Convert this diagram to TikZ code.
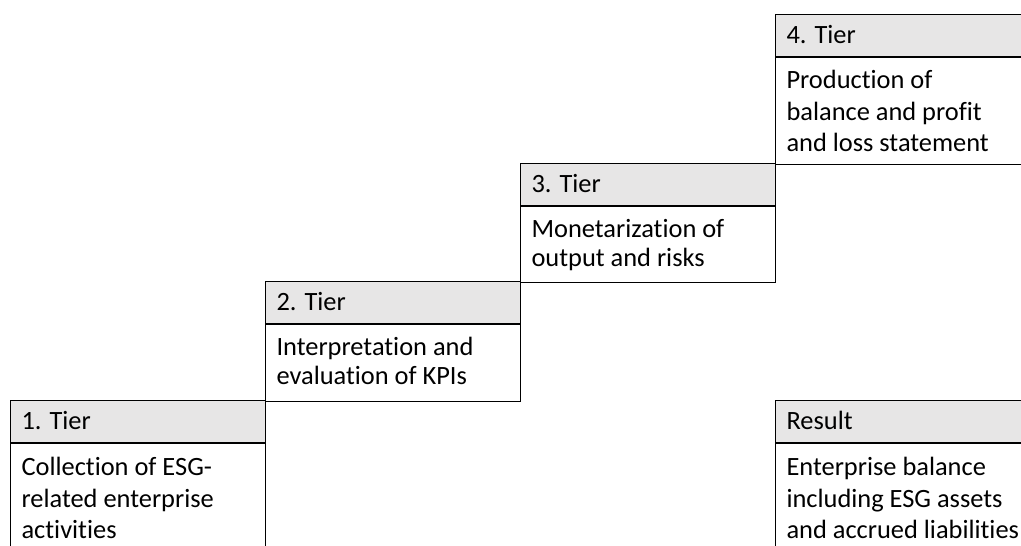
\documentclass[tikz,border=0pt]{standalone}
\usepackage{fontspec}
\setmainfont{Carlito}[Ligatures={NoCommon}]
\definecolor{hdrgray}{HTML}{E7E6E6}
% #1 box height, #2 first-baseline offset, #3 line spacing, #4 text
\newcommand\cellbox[4]{\parbox[c][#1][t]{233pt}{\fontsize{26.4pt}{#3}\selectfont\raggedright\rule{0pt}{#2}#4}}
\tikzset{
  hdr/.style={draw=black, line width=1.1pt, fill=hdrgray, anchor=north west, inner xsep=11pt, inner ysep=0pt},
  bdy/.style={draw=black, line width=1.1pt, fill=white, anchor=north west, inner xsep=11pt, inner ysep=0pt},
}
\begin{document}
\begin{tikzpicture}[x=1pt, y=-1pt]
\useasboundingbox (0,0) rectangle (1021,546);
\clip (0,0) rectangle (1021,546);
% Tier 1
\node[hdr] (h1) at (10,400) {\cellbox{42pt}{29pt}{29pt}{1. Tier}};
\node[bdy] (b1) at (h1.south west) {\cellbox{108pt}{32pt}{31.5pt}{Collection of ESG-\\related enterprise\\activities}};
% Tier 2
\node[hdr] (h2) at (265,281) {\cellbox{42pt}{29pt}{29pt}{2. Tier}};
\node[bdy] (b2) at (h2.south west) {\cellbox{77pt}{31pt}{29pt}{Interpretation and\\evaluation of KPIs}};
% Tier 3
\node[hdr] (h3) at (520,163) {\cellbox{42pt}{29pt}{29pt}{3. Tier}};
\node[bdy] (b3) at (h3.south west) {\cellbox{76pt}{31pt}{29pt}{Monetarization of\\output and risks}};
% Tier 4
\node[hdr] (h4) at (775,14) {\cellbox{42pt}{29pt}{29pt}{4. Tier}};
\node[bdy] (b4) at (h4.south west) {\cellbox{107pt}{31pt}{31.5pt}{Production of\\balance and profit\\and loss statement}};
% Result
\node[hdr] (hr) at (775,400) {\cellbox{42pt}{29pt}{29pt}{Result}};
\node[bdy] (br) at (hr.south west) {\cellbox{108pt}{32pt}{31.5pt}{Enterprise balance\\including ESG assets\\and accrued liabilities}};
\end{tikzpicture}
\end{document}
